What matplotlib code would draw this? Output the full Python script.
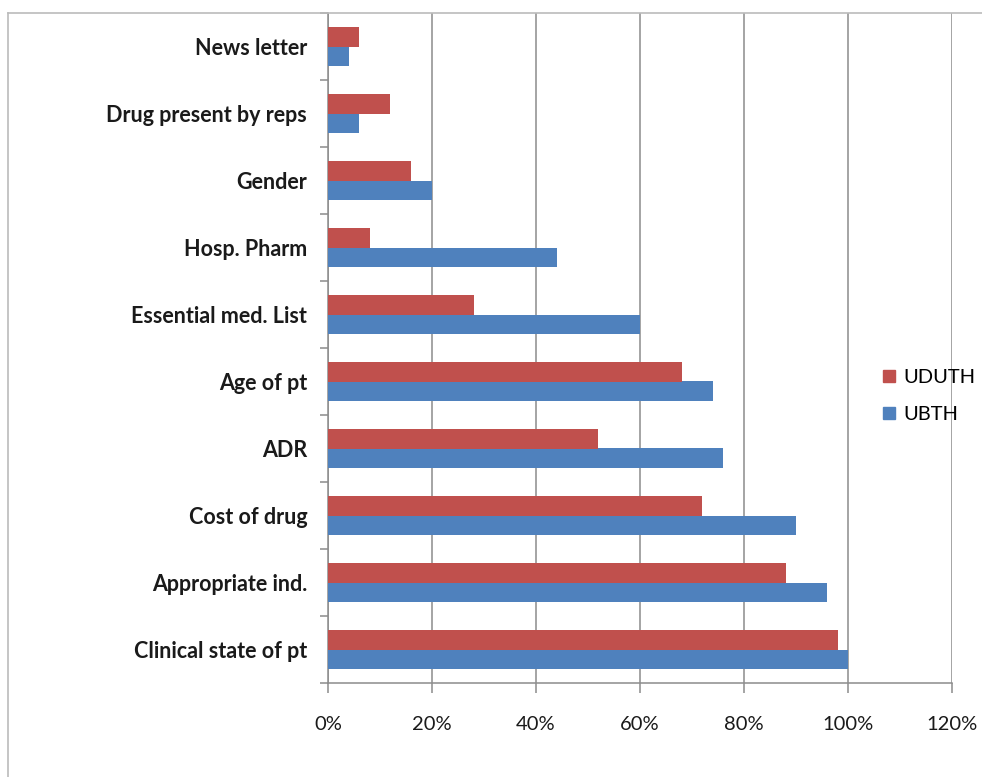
import numpy as np
import matplotlib.pyplot as plt
from matplotlib.lines import Line2D
from matplotlib.ticker import FuncFormatter

# Data (bottom to top as drawn)
categories = [
    "Clinical state of pt", "Appropriate ind.", "Cost of drug", "ADR",
    "Age of pt", "Essential med. List", "Hosp. Pharm", "Gender",
    "Drug present by reps", "News letter",
]
uduth = [98, 88, 72, 52, 68, 28, 8, 16, 12, 6]
ubth = [100, 96, 90, 76, 74, 60, 44, 20, 6, 4]

red = "#C0504D"
blue = "#4F81BD"
grid_col = "#8C8C8C"

plt.rcParams['font.family'] = ['Lato', 'DejaVu Sans']

fig = plt.figure(figsize=(9.82, 7.77), dpi=100)
ax = fig.add_axes([328 / 982, 1 - 683 / 777, (952 - 328) / 982, (683 - 13) / 777])

y = np.arange(len(categories))
h = 0.285
ax.barh(y - h / 2, ubth, height=h, color=blue, label="UBTH", zorder=3)
ax.barh(y + h / 2, uduth, height=h, color=red, label="UDUTH", zorder=3)

ax.set_xlim(0, 120)
ax.set_ylim(-0.5, len(categories) - 0.5)
ax.set_xticks(range(0, 121, 20))
ax.xaxis.set_major_formatter(FuncFormatter(lambda v, p: f"{int(v)}%"))
ax.set_yticks(y)
ax.set_yticklabels(categories)
ax.set_yticks(np.arange(-0.5, len(categories), 1), minor=True)

ax.grid(axis='x', color=grid_col, linewidth=1.1, zorder=0)
for s in ['top', 'right']:
    ax.spines[s].set_visible(False)
for s in ['left', 'bottom']:
    ax.spines[s].set_color(grid_col)
    ax.spines[s].set_linewidth(1.1)

ax.tick_params(axis='y', which='major', length=0, pad=15, labelsize=15.5,
               labelcolor='#1a1a1a')
ax.tick_params(axis='y', which='minor', length=6, color=grid_col, width=1.1)
ax.tick_params(axis='x', length=7, color=grid_col, width=1.1, pad=17,
               labelsize=14.5, labelcolor='#1a1a1a')
for lab in ax.get_yticklabels():
    lab.set_fontweight('bold')

handles = [
    Line2D([], [], marker='s', color='none', markerfacecolor=red,
           markeredgecolor=red, markersize=9, label="UDUTH"),
    Line2D([], [], marker='s', color='none', markerfacecolor=blue,
           markeredgecolor=blue, markersize=9, label="UBTH"),
]
fig.legend(handles=handles, loc='center left',
           bbox_to_anchor=(863 / 982, 1 - 396 / 777), frameon=False,
           fontsize=14.5, handlelength=0.8, handletextpad=0.3,
           labelspacing=1.0)

# outer frame (left and top edges visible)
fig.add_artist(Line2D([8 / 982, 8 / 982], [0, 1 - 13 / 777],
                      transform=fig.transFigure, color='#BBBBBB', lw=1.2))
fig.add_artist(Line2D([8 / 982, 1], [1 - 13 / 777, 1 - 13 / 777],
                      transform=fig.transFigure, color='#BBBBBB', lw=1.2))

fig.savefig("out.png", dpi=100)
